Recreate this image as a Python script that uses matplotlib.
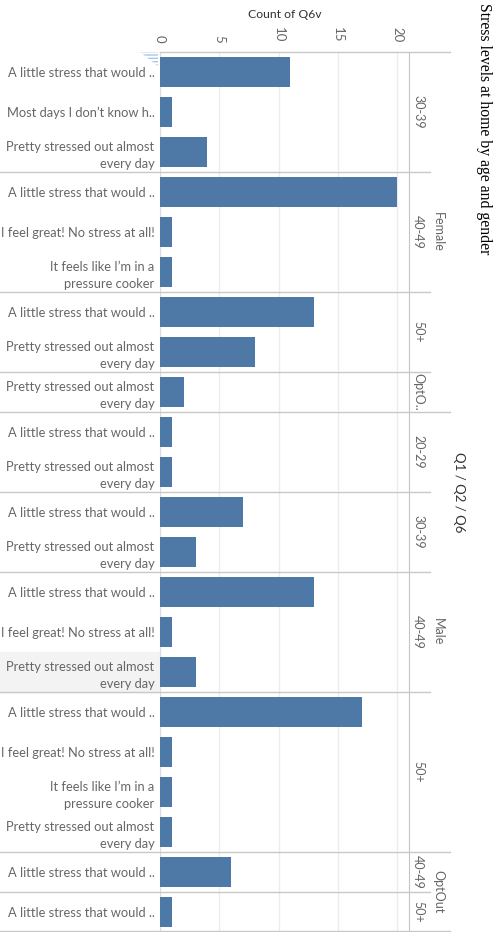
import matplotlib
matplotlib.use("Agg")
import matplotlib.pyplot as plt
from matplotlib import transforms
from matplotlib.lines import Line2D
from matplotlib.patches import Rectangle, Polygon

# data: one entry per bar row, top to bottom
gender = ["Female"] * 9 + ["Male"] * 11 + ["OptOut"] * 2
age = ["30-39", "30-39", "30-39", "40-49", "40-49", "40-49", "50+", "50+", "OptOut",
       "20-29", "20-29", "30-39", "30-39", "40-49", "40-49", "40-49",
       "50+", "50+", "50+", "50+", "40-49", "50+"]
response = [
    "A little stress that would ..",
    "Most days I don\u2019t know h..",
    "Pretty stressed out almost\nevery day",
    "A little stress that would ..",
    "I feel great! No stress at all!",
    "It feels like I\u2019m in a\npressure cooker",
    "A little stress that would ..",
    "Pretty stressed out almost\nevery day",
    "Pretty stressed out almost\nevery day",
    "A little stress that would ..",
    "Pretty stressed out almost\nevery day",
    "A little stress that would ..",
    "Pretty stressed out almost\nevery day",
    "A little stress that would ..",
    "I feel great! No stress at all!",
    "Pretty stressed out almost\nevery day",
    "A little stress that would ..",
    "I feel great! No stress at all!",
    "It feels like I\u2019m in a\npressure cooker",
    "Pretty stressed out almost\nevery day",
    "A little stress that would ..",
    "A little stress that would ..",
]
count = [11, 1, 4, 20, 1, 1, 13, 8, 2, 1, 1, 7, 3, 13, 1, 3, 17, 1, 1, 1, 6, 1]
ticks = [0, 5, 10, 15, 20]

W, H = 495, 932
fx = lambda px: px / W
fy = lambda py: 1 - py / H

plt.rcParams["font.family"] = ["Lato", "DejaVu Sans"]
fig = plt.figure(figsize=(W / 100, H / 100), dpi=100)
ax = fig.add_axes([fx(160), 0, fx(409) - fx(160), 880 / H])

n = len(count)
ypos = [i + 0.5 for i in range(n)]
ax.barh(ypos, count, height=0.75, color="#4e79a7", zorder=3)
ax.set_ylim(n, 0)
ax.set_xlim(0, 21)

ax.set_yticks(ypos)
ax.set_yticklabels(response, fontsize=9.3, color="#666666")
for t in ax.get_yticklabels():
    t.set_linespacing(1.45)
ax.tick_params(axis="y", length=0, pad=4)

ax.xaxis.tick_top()
ax.set_xticks(ticks)
ax.set_xticklabels([str(t) for t in ticks], rotation=-90, fontsize=9.5, color="#666666")
ax.tick_params(axis="x", length=0, pad=7)
ax.grid(axis="x", color="#ececec", lw=1)
ax.set_axisbelow(True)
for s in ["top", "bottom"]:
    ax.spines[s].set_visible(False)
ax.spines["left"].set_color("#dddddd")
ax.spines["right"].set_color("#c4c4c4")

fig.text(fx(284.5), fy(15), "Count of Q6v", ha="center", va="center", fontsize=8.8, color="#333333")

# highlighted row
fig.patches.append(Rectangle((0, fy(692)), fx(160), 40 / H, transform=fig.transFigure,
                             color="#f3f3f3", zorder=-1))

blend = transforms.blended_transform_factory(fig.transFigure, ax.transData)

# group headers and divider lines
def groups(keys):
    out = []
    start = 0
    for i in range(1, n + 1):
        if i == n or keys[i] != keys[start]:
            out.append((start, i, keys[start]))
            start = i
    return out

age_keys = list(zip(gender, age))
for s, e, (g, a) in groups(age_keys):
    lab = a if (e - s) > 1 or len(a) <= 5 else a[:4] + ".."
    ax.text(fx(418), (s + e) / 2, lab, rotation=-90, ha="center", va="center",
            fontsize=9, color="#666666", transform=blend, clip_on=False)
    if s > 0 and gender[s] == gender[s - 1]:
        fig.add_artist(Line2D([0, fx(430)], [s, s], transform=blend, color="#c8c8c8", lw=1))

for s, e, g in groups(gender):
    ax.text(fx(438), (s + e) / 2, g, rotation=-90, ha="center", va="center",
            fontsize=9, color="#666666", transform=blend, clip_on=False)
    if s > 0:
        fig.add_artist(Line2D([0, fx(450)], [s, s], transform=blend, color="#c8c8c8", lw=1))

fig.add_artist(Line2D([fx(160), fx(450)], [0, 0], transform=blend, color="#c8c8c8", lw=1))
fig.add_artist(Line2D([0, fx(450)], [n - 0.02, n - 0.02], transform=blend, color="#c8c8c8", lw=1))

ax.text(fx(459), n / 2, "Q1 / Q2 / Q6", rotation=-90, ha="center", va="center",
        fontsize=9.5, color="#333333", transform=blend, clip_on=False)

fig.text(fx(484), fy(3), "Stress levels at home by age and gender", rotation=-90,
         ha="center", va="top", fontsize=11.3, color="black", family="Liberation Serif")

# selection marker in corner
fig.patches.append(Polygon([(fx(140), fy(52)), (fx(158), fy(52)), (fx(158), fy(66))],
                           closed=True, transform=fig.transFigure, facecolor="white",
                           edgecolor="#a9c6e6", hatch="-----", lw=0))

fig.savefig("out.png", dpi=100)
